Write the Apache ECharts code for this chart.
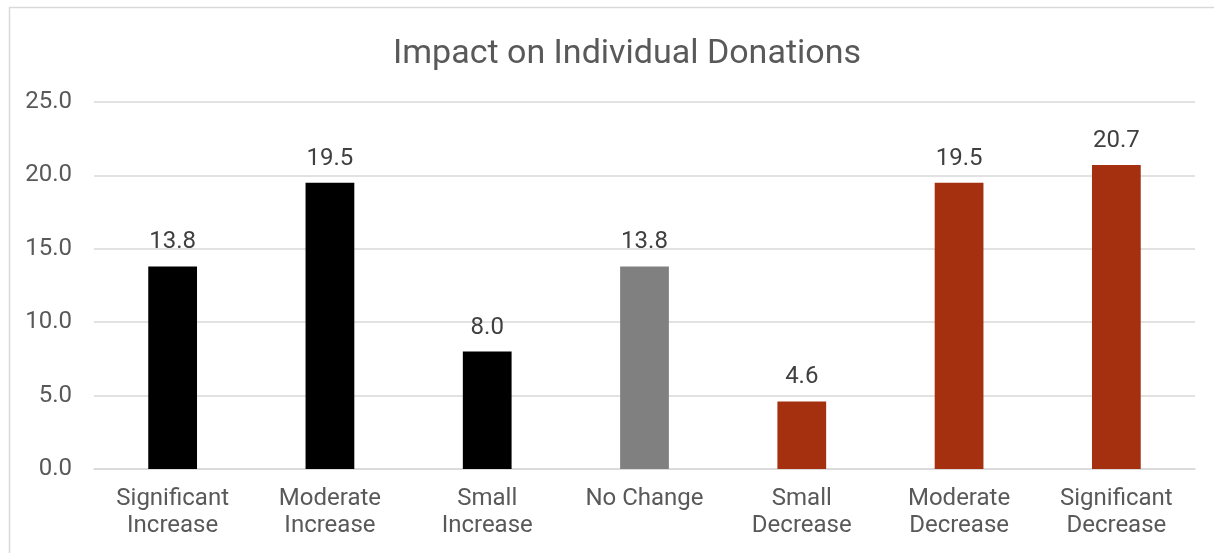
<!DOCTYPE html>
<html>
<head>
<meta charset="utf-8">
<script src="https://cdn.jsdelivr.net/npm/echarts@6/dist/echarts.min.js"></script>
<style>
  html, body { margin: 0; padding: 0; background: #fff; }
  #chart { width: 1214px; height: 553px; }
</style>
</head>
<body>
<div id="chart"></div>
<script>
// Survey responses: change in individual donations
const categories = [
  'Significant\nIncrease', 'Moderate\nIncrease', 'Small\nIncrease', 'No Change',
  'Small\nDecrease', 'Moderate\nDecrease', 'Significant\nDecrease'
];
const values = [13.8, 19.5, 8.0, 13.8, 4.6, 19.5, 20.7];
const barColors = ['#000000', '#000000', '#000000', '#808080', '#A5300F', '#A5300F', '#A5300F'];
const yTicks = [0, 5, 10, 15, 20, 25];

const chart = echarts.init(document.getElementById('chart'), null, { renderer: 'canvas' });
const font = 'Roboto, "Liberation Sans", Arial, sans-serif';

chart.setOption({
  backgroundColor: '#ffffff',
  animation: false,
  title: {
    text: 'Impact on Individual Donations',
    left: 388,
    top: 32,
    textStyle: { fontFamily: font, fontSize: 34, fontWeight: 'normal', color: '#595959' }
  },
  graphic: [{
    type: 'rect',
    shape: { x: 9.5, y: 7.5, width: 1220, height: 560 },
    style: { fill: 'none', stroke: '#d9d9d9', lineWidth: 1.5 },
    silent: true
  }],
  grid: { left: 94, right: 19, top: 102, bottom: 84, containLabel: false },
  xAxis: {
    type: 'category',
    data: categories,
    axisLine: { show: true, lineStyle: { color: '#d9d9d9', width: 1.5 } },
    axisTick: { show: false },
    axisLabel: {
      fontFamily: font, fontSize: 24, color: '#595959',
      lineHeight: 27, margin: 16, interval: 0
    }
  },
  yAxis: {
    type: 'value',
    min: yTicks[0],
    max: yTicks[yTicks.length - 1],
    interval: 5,
    axisLine: { show: false },
    axisTick: { show: false },
    splitLine: { lineStyle: { color: '#d9d9d9', width: 1.5 } },
    axisLabel: {
      fontFamily: font, fontSize: 24, color: '#595959', margin: 22,
      formatter: v => v.toFixed(1)
    }
  },
  series: [{
    type: 'bar',
    data: values.map((v, i) => ({ value: v, itemStyle: { color: barColors[i] } })),
    barWidth: '31%',
    label: {
      show: true,
      position: 'top',
      distance: 12,
      fontFamily: font, fontSize: 24, color: '#404040',
      formatter: p => p.value.toFixed(1)
    }
  }]
});
</script>
</body>
</html>
